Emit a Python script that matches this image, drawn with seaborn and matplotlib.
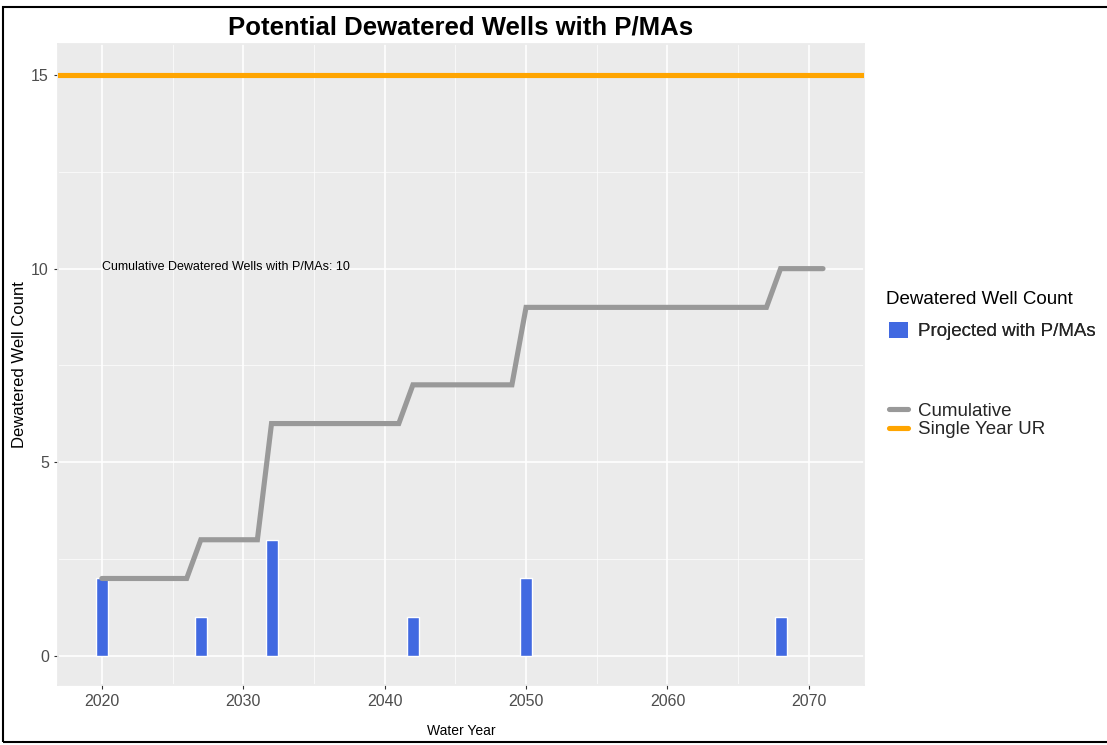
import matplotlib
matplotlib.use("Agg")
import matplotlib.pyplot as plt
import seaborn as sns
import pandas as pd
from matplotlib.patches import Patch, Rectangle
from matplotlib.lines import Line2D

# ----------------------------
# DATA
# ----------------------------
bar_years = [2020, 2027, 2032, 2042, 2050, 2068]
bar_counts = [2, 1, 3, 1, 2, 1]

cum_years = [2020, 2026, 2027, 2031, 2032, 2041, 2042, 2049, 2050, 2067, 2068, 2071]
cum_counts = [2, 2, 3, 3, 6, 6, 7, 7, 9, 9, 10, 10]

ur_threshold = 15
total_label = "Cumulative Dewatered Wells with P/MAs: 10"

bars_df = pd.DataFrame({"Year": bar_years, "Count": bar_counts})
cum_df = pd.DataFrame({"Year": cum_years, "Cumulative": cum_counts})

# ----------------------------
# STYLE
# ----------------------------
sns.set_theme(style="darkgrid", rc={
    "axes.facecolor": "#EBEBEB",
    "grid.color": "white",
    "axes.edgecolor": "#EBEBEB",
})
plt.rcParams["font.family"] = ["Liberation Sans", "DejaVu Sans"]

fig = plt.figure(figsize=(11.07, 7.45), dpi=100)
ax = fig.add_axes([58 / 1107, 1 - 685 / 745, (864 - 58) / 1107, (685 - 44) / 745])

# bars
ax.bar(bars_df["Year"], bars_df["Count"], width=0.85, color="#4169E1", zorder=3)
# cumulative line
sns.lineplot(data=cum_df, x="Year", y="Cumulative", ax=ax, color="#999999",
             linewidth=3.7, zorder=4, solid_joinstyle="miter")
# UR threshold
ax.axhline(ur_threshold, color="#FFA500", linewidth=3.7, zorder=4)

ax.text(2020, 10.05, total_label, fontsize=9, ha="left", va="center", color="black", zorder=5)

ax.set_xlim(2016.9, 2073.9)
ax.set_ylim(-0.75, 15.8)
ax.set_xticks([2020, 2030, 2040, 2050, 2060, 2070])
ax.set_xticks([2025, 2035, 2045, 2055, 2065], minor=True)
ax.set_yticks([0, 5, 10, 15])
ax.set_yticks([2.5, 7.5, 12.5], minor=True)
ax.grid(which="major", color="white", linewidth=1.2)
ax.grid(which="minor", color="white", linewidth=0.5)
ax.tick_params(axis="both", which="major", labelsize=11.5, labelcolor="#4D4D4D",
               length=3, color="#333333", width=0.8, direction="out",
               bottom=True, left=True)
ax.tick_params(which="minor", length=0)

ax.set_xlabel("Water Year", fontsize=10, labelpad=11, color="black")
ax.set_ylabel("Dewatered Well Count", fontsize=12, labelpad=3, color="black")
ax.set_title("Potential Dewatered Wells with P/MAs", fontsize=18.5,
             fontweight="bold", pad=7, color="black")

# legends
fig.text(886 / 1107, 1 - 300 / 745, "Dewatered Well Count", fontsize=13.5,
         ha="left", va="center", color="black")
leg1 = fig.legend(handles=[Patch(facecolor="#4169E1", edgecolor="none")],
                  labels=["Projected with P/MAs"],
                  loc="center left", bbox_to_anchor=(872 / 1107, 1 - 331 / 745),
                  frameon=False, fontsize=13.5,
                  handlelength=1.0, handleheight=1.0, handletextpad=0.55)
fig.add_artist(leg1)
fig.legend(handles=[Line2D([], [], color="#999999", linewidth=3.7),
                    Line2D([], [], color="#FFA500", linewidth=3.7)],
           labels=["Cumulative", "Single Year UR"],
           loc="upper left", bbox_to_anchor=(872 / 1107, 1 - 386 / 745),
           frameon=False, fontsize=13.5, handlelength=1.0, handletextpad=0.55,
           labelspacing=0.05)

# outer border
fig.add_artist(Rectangle((3 / 1107, 3 / 745), 1.2, 1 - 10 / 745,
                         transform=fig.transFigure, fill=False,
                         edgecolor="black", linewidth=1.5))

fig.savefig("out.png", dpi=100)
